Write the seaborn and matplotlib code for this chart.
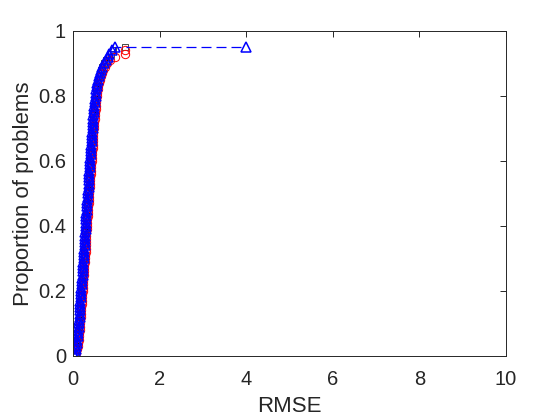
import numpy as np
import matplotlib
matplotlib.use('Agg')
import matplotlib.pyplot as plt
import seaborn as sns

# performance profile data: sorted RMSE per method, proportion = rank / n_problems
n_problems = 100

rmse_red = [0.05, 0.08, 0.10, 0.11, 0.12, 0.13, 0.14, 0.14, 0.15, 0.16, 0.17,
            0.17, 0.18, 0.18, 0.19, 0.19, 0.20, 0.20, 0.21, 0.21, 0.22,
            0.22, 0.23, 0.23, 0.24, 0.25, 0.25, 0.26, 0.26, 0.27, 0.28,
            0.28, 0.29, 0.29, 0.30, 0.30, 0.31, 0.31, 0.31, 0.32, 0.32,
            0.33, 0.33, 0.34, 0.34, 0.35, 0.35, 0.36, 0.36, 0.37, 0.38,
            0.38, 0.39, 0.39, 0.40, 0.40, 0.41, 0.41, 0.42, 0.42, 0.43,
            0.43, 0.44, 0.44, 0.45, 0.45, 0.46, 0.46, 0.47, 0.47, 0.48,
            0.49, 0.49, 0.50, 0.50, 0.51, 0.52, 0.52, 0.53, 0.54, 0.55,
            0.56, 0.57, 0.58, 0.60, 0.62, 0.64, 0.67, 0.70, 0.74, 0.78,
            0.85, 0.97, 1.19, 1.21]

rmse_black = [0.04, 0.06, 0.07, 0.08, 0.09, 0.10, 0.11, 0.11, 0.12, 0.13, 0.14,
              0.14, 0.15, 0.15, 0.16, 0.16, 0.17, 0.17, 0.18, 0.18, 0.19,
              0.19, 0.20, 0.20, 0.21, 0.22, 0.22, 0.23, 0.23, 0.24, 0.25,
              0.25, 0.26, 0.26, 0.27, 0.27, 0.28, 0.28, 0.28, 0.29, 0.29,
              0.30, 0.30, 0.31, 0.31, 0.32, 0.32, 0.33, 0.33, 0.34, 0.35,
              0.35, 0.36, 0.36, 0.37, 0.37, 0.38, 0.38, 0.39, 0.39, 0.40,
              0.40, 0.41, 0.41, 0.42, 0.42, 0.43, 0.43, 0.44, 0.44, 0.45,
              0.46, 0.46, 0.47, 0.47, 0.48, 0.49, 0.49, 0.50, 0.51, 0.52,
              0.53, 0.54, 0.55, 0.56, 0.58, 0.60, 0.62, 0.65, 0.68, 0.72,
              0.77, 0.82, 0.87, 0.93, 1.20]

rmse_blue = [0.04, 0.06, 0.07, 0.08, 0.09, 0.10, 0.11, 0.11, 0.12, 0.13, 0.14,
             0.14, 0.15, 0.15, 0.16, 0.16, 0.17, 0.17, 0.18, 0.18, 0.19,
             0.19, 0.20, 0.20, 0.21, 0.22, 0.22, 0.23, 0.23, 0.24, 0.25,
             0.25, 0.26, 0.26, 0.27, 0.27, 0.28, 0.28, 0.28, 0.29, 0.29,
             0.30, 0.30, 0.31, 0.31, 0.32, 0.32, 0.33, 0.33, 0.34, 0.35,
             0.35, 0.36, 0.36, 0.37, 0.37, 0.38, 0.38, 0.39, 0.39, 0.40,
             0.40, 0.41, 0.41, 0.42, 0.42, 0.43, 0.43, 0.44, 0.44, 0.45,
             0.46, 0.46, 0.47, 0.47, 0.48, 0.49, 0.49, 0.50, 0.51, 0.52,
             0.53, 0.54, 0.55, 0.56, 0.58, 0.60, 0.62, 0.65, 0.68, 0.72,
             0.76, 0.80, 0.84, 0.90, 0.97, 4.00]

x_ticks = [0, 2, 4, 6, 8, 10]
y_ticks = [0, 0.2, 0.4, 0.6, 0.8, 1.0]
y_ticklabels = ['0', '0.2', '0.4', '0.6', '0.8', '1']


def proportion(rmse, extend_last=False):
    ranks = np.arange(len(rmse))
    if extend_last:
        # last point only carries the profile out to the max ratio
        ranks[-1] = ranks[-2]
    return ranks / n_problems


sns.set_theme(style='white')
plt.rcParams['font.family'] = ['Liberation Sans', 'DejaVu Sans']
plt.rcParams['axes.edgecolor'] = '#262626'
plt.rcParams['axes.linewidth'] = 0.7

fig = plt.figure(figsize=(5.6, 4.2), dpi=100)
ax = fig.add_axes([0.1304, 0.1524, 0.7732, 0.7738])

common = dict(sort=False, estimator=None, drawstyle='steps-post',
              markerfacecolor='none', ax=ax)

# black first so the blue profile sits on top of it
sns.lineplot(x=rmse_black, y=proportion(rmse_black), color='#000000', marker='s',
             markersize=4.5, markeredgewidth=0.5, linestyle='none',
             markeredgecolor='#000000', **common)
sns.lineplot(x=rmse_red, y=proportion(rmse_red), color='#ff0000', marker='o',
             markersize=6, markeredgewidth=0.7, linestyle='none',
             markeredgecolor='#ff0000', **common)
sns.lineplot(x=rmse_blue, y=proportion(rmse_blue, extend_last=True), color='#0000ff',
             marker='^', markersize=7.5, markeredgewidth=1.1, linestyle=(0, (8, 4)),
             linewidth=0.9, markeredgecolor='#0000ff', **common)

ax.set_xlim(0, 10)
ax.set_ylim(0, 1)
ax.set_xticks(x_ticks)
ax.set_xticklabels([str(t) for t in x_ticks])
ax.set_yticks(y_ticks)
ax.set_yticklabels(y_ticklabels)
ax.tick_params(direction='in', length=4.5, width=0.7, top=True, right=True,
               labelsize=14.5, colors='#262626')
ax.tick_params(axis='x', pad=10)
ax.tick_params(axis='y', pad=5)
for s in ax.spines.values():
    s.set_visible(True)

ax.set_xlabel('RMSE', fontsize=16, color='#262626', labelpad=5)
ax.set_ylabel('Proportion of problems', fontsize=16, color='#262626', labelpad=3)

fig.savefig('out.png', dpi=100)
